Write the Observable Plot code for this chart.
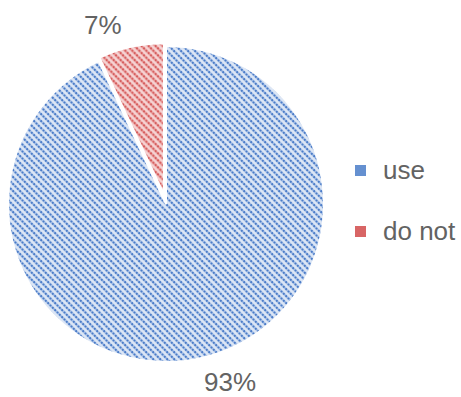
<!DOCTYPE html>
<html><head><meta charset="utf-8">
<script src="https://cdn.jsdelivr.net/npm/d3@7"></script>
<script src="https://cdn.jsdelivr.net/npm/@observablehq/plot@0.6"></script>
<style>body{margin:0;background:#fff;} svg{display:block;}</style>
</head><body><div id="chart"></div>
<script>
const categories = ["use", "do not"];
const shares = [93, 7];
const labels = ["93%", "7%"];
const baseColors = ["#dce6f5", "#f6d5d5"];
const midColors = ["#a7c0e6", "#eaa3a3"];
const dotColors = ["#4a7cc8", "#d14a4a"];

const data = categories.map((c, i) => ({category: c, value: shares[i], label: labels[i], i}));
const arcs = d3.pie().value(d => d.value).sort(null)(data);
arcs.forEach(a => { a.data.mid = (a.startAngle + a.endAngle) / 2; });

const explode = [0, 0.063];   // fraction of radius
const shrink = [1, 0.956];
const labelDist = 1.2;
const labelShift = -7 * Math.PI / 180;

const svgNS = "http://www.w3.org/2000/svg";
function el(name, attrs, parent) {
  const e = document.createElementNS(svgNS, name);
  for (const k in attrs) e.setAttribute(k, attrs[k]);
  if (parent) parent.appendChild(e);
  return e;
}
function sc(scales, k) { return typeof scales[k] === "function" ? scales[k] : scales.scales[k].apply; }

function pieMark(index, scales) {
  const X = sc(scales, "x"), Y = sc(scales, "y");
  const cx = X(0), cy = Y(0), r = X(1) - X(0);
  const g = el("g", {});
  const defs = el("defs", {}, g);
  const T = 7;
  categories.forEach((c, i) => {
    const p = el("pattern", {id: "pat" + i, width: T, height: T, patternUnits: "userSpaceOnUse"}, defs);
    el("rect", {width: T, height: T, fill: baseColors[i]}, p);
    [[-T, 0], [0, 0], [T, 0]].forEach(([ox]) =>
      el("line", {x1: ox - 1, y1: -1, x2: ox + T + 1, y2: T + 1, stroke: midColors[i], "stroke-width": 2.6}, p));
    for (let k = -1; k <= 3; k++) {
      const q = (k + 0.5) * T / 3;
      el("circle", {cx: q, cy: q, r: 1.05, fill: dotColors[i]}, p);
    }
  });
  arcs.forEach(a => {
    const i = a.data.i;
    const R = r * shrink[i];
    const off = r * explode[i];
    const dx = off * Math.sin(a.data.mid), dy = -off * Math.cos(a.data.mid);
    const path = d3.arc().innerRadius(0).outerRadius(R)(a);
    el("path", {d: path, transform: `translate(${cx + dx},${cy + dy})`, fill: `url(#pat${i})`,
      stroke: "#fff", "stroke-width": 2, "stroke-linejoin": "miter"}, g);
  });
  // legend
  const lx = 355, ly = 165, step = 61;
  categories.forEach((c, i) => {
    el("rect", {x: lx, y: ly + i * step, width: 11, height: 11, fill: dotColors[i], "fill-opacity": 0.85}, g);
    const t = el("text", {x: lx + 28, y: ly + 14 + i * step, fill: "#636363", "font-size": 26,
      "text-anchor": "start",
      "font-family": "'Liberation Sans', Arial, Helvetica, sans-serif"}, g);
    t.textContent = c;
  });
  return g;
}

const chart = Plot.plot({
  width: 461,
  height: 397,
  margin: 0,
  x: {domain: [-1, 1], range: [8, 324], axis: null},
  y: {domain: [-1, 1], range: [362, 46], axis: null},
  style: {background: "#fff", fontFamily: "'Liberation Sans', Arial, Helvetica, sans-serif"},
  marks: [
    pieMark,
    Plot.text(arcs, {
      x: a => labelDist * Math.sin(a.data.mid + labelShift),
      y: a => labelDist * Math.cos(a.data.mid + labelShift),
      text: a => a.data.label,
      fontSize: 26,
      fill: "#636363"
    })
  ]
});
document.getElementById("chart").appendChild(chart);
</script>
</body></html>
